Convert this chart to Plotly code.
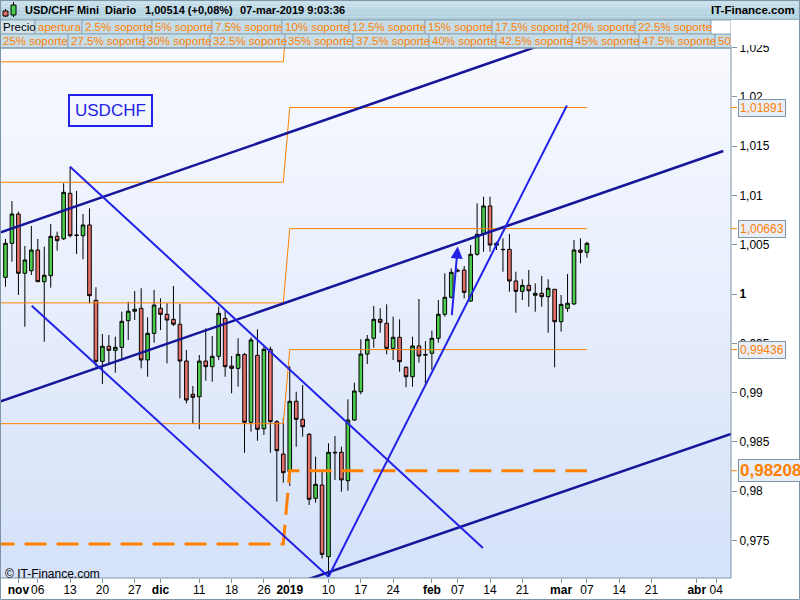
import plotly.graph_objects as go

# daily candles, trading days 30-oct-2018 .. 07-mar-2019 (index 0..90)
open_ = [1.00169, 1.00514, 1.00811, 1.00210, 1.00236, 1.00446, 1.00125, 1.00186, 1.00585, 1.00560,
         1.01021, 1.00593, 1.00591, 1.00700, 0.99936, 0.99317, 0.99470, 0.99429, 0.99459, 0.99729,
         0.99825, 0.99855, 0.99331, 0.99601, 0.99855, 0.99794, 0.99743, 0.99693, 0.99320, 0.98983,
         0.98958, 0.99320, 0.99263, 0.99368, 0.99753, 0.99270, 0.99246, 0.99388, 0.98699, 0.99378,
         0.98634, 0.99439, 0.98705, 0.98377, 0.98198, 0.98912, 0.98729, 0.98577, 0.97928, 0.98063,
         0.97336, 0.98395, 0.98395, 0.98107, 0.98722, 0.99009, 0.99391, 0.99551, 0.99743, 0.99703,
         0.99449, 0.99561, 0.99257, 0.99161, 0.99473, 0.99380, 0.99399, 0.99551, 0.99794, 0.99967,
         1.00232, 1.00243, 0.99929, 1.00403, 1.00605, 1.00893, 1.00494, 1.00453, 1.00453, 1.00132,
         1.00027, 1.00088, 0.99987, 1.00007, 0.99973, 1.00048, 0.99719, 0.99855, 0.99899, 1.00446,
         1.00423]
high = [1.00558, 1.00943, 1.00835, 1.00487, 1.00690, 1.00558, 1.00480, 1.00710, 1.00632, 1.01123,
        1.01291, 1.01045, 1.00811, 1.00869, 1.00068, 0.99594, 0.99584, 0.99567, 0.99821, 0.99922,
        1.00030, 1.00058, 0.99764, 1.00041, 0.99956, 0.99906, 1.00081, 0.99899, 0.99432, 0.99067,
        0.99381, 0.99652, 0.99574, 0.99871, 0.99838, 0.99371, 0.99551, 0.99400, 0.99561, 0.99642,
        0.99466, 0.99466, 0.98722, 0.98739, 0.99270, 0.99009, 0.99077, 0.98590, 0.98350, 0.98215,
        0.98486, 0.98560, 0.98451, 0.98932, 0.99100, 0.99541, 0.99584, 0.99878, 0.99855, 0.99895,
        0.99770, 0.99743, 0.99265, 0.99567, 0.99949, 0.99523, 0.99628, 0.99939, 1.00210, 1.00260,
        1.00260, 1.00284, 1.00497, 1.00920, 1.00987, 1.00987, 1.00530, 1.00565, 1.00609, 1.00226,
        1.00149, 1.00243, 1.00108, 1.00183, 1.00149, 1.00051, 0.99990, 1.00203, 1.00548, 1.00565,
        1.00530]
low = [1.00074, 1.00328, 0.99990, 0.99668, 1.00193, 1.00122, 0.99516, 1.00064, 1.00439, 1.00548,
       1.00575, 1.00406, 1.00352, 0.99906, 0.99263, 0.99087, 0.99280, 0.99202, 0.99338, 0.99533,
       0.99736, 0.99246, 0.99161, 0.99506, 0.99635, 0.99297, 0.99675, 0.98942, 0.98891, 0.98682,
       0.98628, 0.99121, 0.99111, 0.99331, 0.99161, 0.98993, 0.99060, 0.98390, 0.98604, 0.98512,
       0.98570, 0.98390, 0.97894, 0.98086, 0.98053, 0.98451, 0.98553, 0.97860, 0.97883, 0.97319,
       0.97133, 0.98114, 0.97995, 0.98005, 0.98715, 0.98983, 0.99290, 0.99455, 0.99607, 0.99388,
       0.99331, 0.99212, 0.99054, 0.99060, 0.99303, 0.99077, 0.99229, 0.99506, 0.99770, 0.99956,
       1.00220, 0.99956, 0.99922, 1.00388, 1.00429, 1.00429, 1.00446, 1.00226, 1.00023, 0.99810,
       0.99939, 0.99871, 0.99820, 0.99871, 0.99607, 0.99257, 0.99618, 0.99820, 0.99888, 1.00311,
       1.00368]
close = [1.00514, 1.00811, 1.00210, 1.00345, 1.00446, 1.00125, 1.00190, 1.00585, 1.00541, 1.01031,
         1.00591, 1.00597, 1.00700, 0.99983, 0.99317, 0.99470, 0.99429, 0.99459, 0.99723, 0.99825,
         0.99845, 0.99331, 0.99601, 0.99888, 0.99794, 0.99736, 0.99693, 0.99320, 0.98925, 0.98952,
         0.99320, 0.99263, 0.99368, 0.99804, 0.99263, 0.99246, 0.99388, 0.98699, 0.99534, 0.98628,
         0.99439, 0.98705, 0.98411, 0.98188, 0.98912, 0.98729, 0.98654, 0.97918, 0.98070, 0.97360,
         0.98395, 0.98390, 0.98114, 0.98722, 0.99016, 0.99391, 0.99541, 0.99743, 0.99713, 0.99449,
         0.99561, 0.99313, 0.99161, 0.99473, 0.99371, 0.99386, 0.99551, 0.99794, 0.99967, 1.00220,
         1.00238, 1.00017, 1.00403, 1.00605, 1.00893, 1.00497, 1.00514, 1.00450, 1.00132, 1.00027,
         1.00088, 1.00033, 1.00007, 0.99973, 1.00058, 0.99719, 0.99895, 0.99906, 1.00446, 1.00423,
         1.00514]
days = list(range(len(close)))

# x-axis ticks (trading-day index): day numbers and month names
day_idx = [5, 10, 15, 20, 30, 35, 40, 50, 55, 60, 70, 75, 80, 90, 95, 100, 110]
day_txt = ["06", "13", "20", "27", "11", "18", "26", "10", "17", "24", "07", "14", "21", "07", "14", "21", "04"]
month_idx = [2, 24, 44, 66, 86, 107]
month_txt = ["nov", "dic", "2019", "feb", "mar", "abr"]
price_ticks = [0.975, 0.98, 0.985, 0.99, 0.995, 1.0, 1.005, 1.01, 1.015, 1.02, 1.025]
price_txt = ["0,975", "0,98", "0,985", "0,99", "0,995", "<b>1</b>", "1,005", "1,01", "1,015", "1,02", "1,025"]

# support levels: before / after the year change
level_x = [-2, 43, 44, 90]
levels_old = [1.02355, 1.01133, 0.99910, 0.98685, 0.97465]
levels_new = [1.03118, 1.01891, 1.00663, 0.99436, 0.98208]
level_labels = ["", "1,01891", "1,00663", "0,99436", "0,98208"]

# trend lines (x index, price)
navy_lines = [
    ([-0.85, 83.0], [1.00622, 1.02526]),
    ([-0.85, 111.1], [0.98908, 1.01450]),
    ([44.0, 112.3], [0.97043, 0.98580]),
]
blue_lines = [
    ([10.0, 73.9], [1.01291, 0.97424]),
    ([4.06, 50.0], [0.99881, 0.97133]),
    ([50.0, 86.9], [0.97133, 1.01912]),
]
arrow_from = (69.07, 0.99770)
arrow_to = (70.0, 1.00482)

row2 = [("Precio", 0, 35), ("apertura", 35, 82), ("2.5% soporte", 82, 152), ("5% soporte", 152, 212),
        ("7.5% soporte", 212, 282), ("10% soporte", 282, 349), ("12.5% soporte", 349, 425),
        ("15% soporte", 425, 492), ("17.5% soporte", 492, 568), ("20% soporte", 568, 635),
        ("22.5% soporte", 635, 711)]
row3 = [("25% soporte", 0, 68), ("27.5% soporte", 68, 144), ("30% soporte", 144, 210),
        ("32.5% soporte", 210, 285), ("35% soporte", 285, 353), ("37.5% soporte", 353, 429),
        ("40% soporte", 429, 496), ("42.5% soporte", 496, 572), ("45% soporte", 572, 639),
        ("47.5% soporte", 639, 715), ("50", 715, 731)]

ORANGE = "#ff8000"
NAVY = "#16169a"
BLUE = "#2222e6"
FRAME = "#7d95a6"
FONT = "Liberation Sans, Arial, sans-serif"

PW, PT, PB = 731, 45, 578
Y_TOP = 1 + (294 - PT) / 9860
Y_BOT = 1 - (PB - 294) / 9860
X_RANGE = [-0.85, 112.3]


def px(x):
    return x / PW


def py(y):
    return (PB - y) / (PB - PT)


fig = go.Figure()

for k, (lo, hi) in enumerate(zip(levels_old, levels_new)):
    fig.add_trace(go.Scatter(
        x=level_x, y=[lo, lo, hi, hi], mode="lines", hoverinfo="skip",
        line=dict(color=ORANGE, width=3 if k == 4 else 1, dash="22px,10px" if k == 4 else "solid"),
    ))

fig.add_trace(go.Candlestick(
    x=days, open=open_, high=high, low=low, close=close, whiskerwidth=0,
    increasing=dict(line=dict(color="black", width=1), fillcolor="#4ccc4c"),
    decreasing=dict(line=dict(color="black", width=1), fillcolor="#e6706a"),
))

for xs, ys in navy_lines:
    fig.add_trace(go.Scatter(x=xs, y=ys, mode="lines", line=dict(color=NAVY, width=2.5), hoverinfo="skip"))
for xs, ys in blue_lines:
    fig.add_trace(go.Scatter(x=xs, y=ys, mode="lines", line=dict(color=BLUE, width=2), hoverinfo="skip"))

# empty trace so the month axis gets drawn
fig.add_trace(go.Scatter(x=[None], y=[None], xaxis="x2", mode="lines", hoverinfo="skip"))

shapes = []
# plot background gradient
n = 40
for i in range(n):
    t = i / (n - 1)
    r = int(214 + (248 - 214) * t)
    g = int(226 + (250 - 226) * t)
    b = int(250 + (255 - 250) * t)
    shapes.append(dict(type="rect", xref="paper", yref="paper", x0=0, x1=1, y0=i / n, y1=(i + 1) / n + 0.002,
                       fillcolor=f"rgb({r},{g},{b})", line=dict(width=0), layer="below"))
# header bar
for i in range(6):
    t = i / 5
    c = f"rgb({int(176 + 24 * t)},{int(208 + 16 * t)},{int(222 + 12 * t)})"
    shapes.append(dict(type="rect", xref="paper", yref="paper", x0=px(0), x1=px(800),
                       y0=py(20 - i * 20 / 6), y1=py(20 - (i + 1) * 20 / 6), fillcolor=c, line=dict(width=0)))
shapes.append(dict(type="rect", xref="paper", yref="paper", x0=px(0.5), x1=px(799.5), y0=py(20), y1=py(0.5),
                   fillcolor="rgba(0,0,0,0)", line=dict(color=FRAME, width=1)))
# legend rows
for row, (y0, y1) in ((row2, (20, 34)), (row3, (34, 48))):
    for label, x0, x1 in row:
        shapes.append(dict(type="rect", xref="paper", yref="paper", x0=px(x0), x1=px(min(x1, PW)),
                           y0=py(y1), y1=py(y0), fillcolor="#c6dde8" if label != "Precio" else "#d3e4ec",
                           line=dict(color="#8fa7b6", width=1)))
shapes.append(dict(type="rect", xref="paper", yref="paper", x0=px(711), x1=px(PW), y0=py(34), y1=py(20),
                   fillcolor="white", line=dict(color="#8fa7b6", width=1)))
# white strip behind the right axis, next to the legend rows
shapes.append(dict(type="rect", xref="paper", yref="paper", x0=1, x1=px(800), y0=py(45), y1=py(20),
                   fillcolor="white", line=dict(width=0)))
# title icon
shapes += [
    dict(type="line", xref="paper", yref="paper", x0=px(5.5), x1=px(5.5), y0=py(17), y1=py(9), line=dict(color="black", width=1)),
    dict(type="rect", xref="paper", yref="paper", x0=px(3), x1=px(8), y0=py(16), y1=py(11), fillcolor="#e6706a", line=dict(color="black", width=1)),
    dict(type="line", xref="paper", yref="paper", x0=px(13.5), x1=px(13.5), y0=py(17), y1=py(2), line=dict(color="black", width=1)),
    dict(type="rect", xref="paper", yref="paper", x0=px(11), x1=px(16), y0=py(15), y1=py(5), fillcolor="#4ccc4c", line=dict(color="black", width=1)),
]
# plot frame and outer frame
shapes.append(dict(type="rect", xref="paper", yref="paper", x0=px(0.5), x1=1, y0=0, y1=py(48),
                   line=dict(color=FRAME, width=1)))
shapes.append(dict(type="rect", xref="paper", yref="paper", x0=px(0.5), x1=px(799.5), y0=py(599.5), y1=py(0.5),
                   line=dict(color=FRAME, width=1)))
# orange ticks at the level labels
for lab, lv in zip(level_labels, levels_new):
    if lab:
        shapes.append(dict(type="line", xref="paper", yref="y", x0=1, x1=px(737), y0=lv, y1=lv,
                           line=dict(color=ORANGE, width=1)))

ann = []
for text, x in (("USD/CHF Mini", 23), ("Diario", 103), ("1,00514 (+0,08%)", 143), ("07-mar-2019 9:03:36", 238)):
    ann.append(dict(xref="paper", yref="paper", x=px(x), y=py(10), xanchor="left", yanchor="middle",
                    text=f"<b>{text}</b>", showarrow=False, font=dict(family=FONT, size=11, color="black")))
ann.append(dict(xref="paper", yref="paper", x=px(797), y=py(10), xanchor="right", yanchor="middle",
                text="<b>IT-Finance.com</b>", showarrow=False, font=dict(family=FONT, size=11.5, color="black")))
for row, yc in ((row2, 27), (row3, 41)):
    for label, x0, x1 in row:
        ann.append(dict(xref="paper", yref="paper", x=px(x0 + 1), y=py(yc), xanchor="left", yanchor="middle",
                        text=label, showarrow=False,
                        font=dict(family=FONT, size=11.5, color="black" if label == "Precio" else ORANGE)))
for lab, lv in zip(level_labels, levels_new):
    if lab:
        big = lab == "0,98208"
        ann.append(dict(xref="paper", yref="y", x=px(738), y=lv, xanchor="left", yanchor="middle",
                        text=f"<b>{lab}</b>" if big else lab, showarrow=False,
                        font=dict(family=FONT, size=17 if big else 12, color=ORANGE),
                        bgcolor="#e8eef8", bordercolor=FRAME, borderwidth=1, borderpad=1))
ann.append(dict(xref="paper", yref="paper", x=px(110.5), y=py(110), xanchor="center", yanchor="middle",
                text="USDCHF", showarrow=False, font=dict(family=FONT, size=17, color=BLUE),
                bordercolor=BLUE, borderwidth=2, borderpad=5))
ann.append(dict(xref="paper", yref="paper", x=px(3), y=py(574), xanchor="left", yanchor="middle",
                text="© IT-Finance.com", showarrow=False, font=dict(family=FONT, size=12, color="black")))
ann.append(dict(x=arrow_to[0], y=arrow_to[1], ax=arrow_from[0], ay=arrow_from[1], xref="x", yref="y",
                axref="x", ayref="y", showarrow=True, arrowhead=2, arrowsize=1.2, arrowwidth=2,
                arrowcolor=BLUE, text=""))

xaxis_common = dict(range=X_RANGE, ticks="outside", ticklen=4, tickcolor=FRAME, showgrid=False,
                    zeroline=False, automargin=False, ticklabelstandoff=-3)

fig.update_layout(
    width=800, height=600, margin=dict(l=0, r=800 - PW, t=PT, b=600 - PB, autoexpand=False),
    paper_bgcolor="white", plot_bgcolor="#eef2fd", showlegend=False,
    font=dict(family=FONT, size=12, color="black"),
    shapes=shapes, annotations=ann,
    xaxis=dict(tickvals=day_idx, ticktext=day_txt, rangeslider=dict(visible=False),
               tickfont=dict(size=12, color="black"), **xaxis_common),
    xaxis2=dict(overlaying="x", anchor="y", side="bottom", tickvals=month_idx, ticktext=month_txt,
                tickfont=dict(size=12, color="black", weight="bold"), **xaxis_common),
    yaxis=dict(range=[Y_BOT, Y_TOP], side="right", tickvals=price_ticks, ticktext=price_txt,
               ticks="outside", ticklen=5, tickcolor=FRAME, showgrid=False, zeroline=False,
               tickfont=dict(size=12, color="black"), automargin=False),
    boxgap=0.2,
)

fig.write_html("out.html", config={"displayModeBar": False},
               post_script="document.body.style.margin='0';")
